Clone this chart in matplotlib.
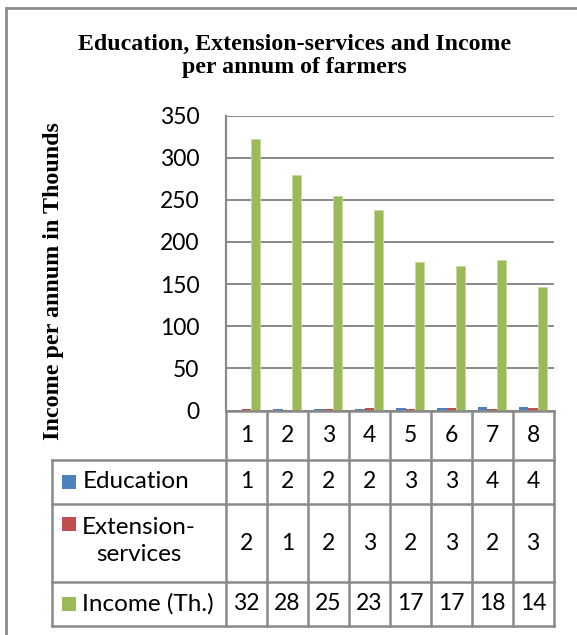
import matplotlib
matplotlib.use("Agg")
import matplotlib.pyplot as plt
from matplotlib.lines import Line2D
from matplotlib.patches import Rectangle
import matplotlib.transforms as mtransforms
import numpy as np

categories = ["1", "2", "3", "4", "5", "6", "7", "8"]
education = [1, 2, 2, 2, 3, 3, 4, 4]
extension = [2, 1, 2, 3, 2, 3, 2, 3]
income = [322, 280, 255, 238, 176, 171, 179, 147]
income_table = ["32", "28", "25", "23", "17", "17", "18", "14"]
yticks = [0, 50, 100, 150, 200, 250, 300, 350]

series_names = ["Education", "Extension-\nservices", "Income (Th.)"]
colors = ["#4F81BD", "#C0504D", "#9BBB59"]

W, H = 577, 635
fig = plt.figure(figsize=(W / 100, H / 100), dpi=100)

def fx(px):
    return px / W

def fy(py):
    return 1 - py / H

GRAY = "#898989"
AX_L, AX_R, AX_T, AX_B = 226, 553.5, 115.5, 410.5
ax = fig.add_axes([fx(AX_L), fy(AX_B), fx(AX_R) - fx(AX_L), fy(AX_T) - fy(AX_B)])

n = len(categories)
x = np.arange(n)
bw = 0.227
ax.bar(x - bw, education, bw, color=colors[0], zorder=3)
ax.bar(x, extension, bw, color=colors[1], zorder=3)
ax.bar(x + bw, income, bw, color=colors[2], zorder=3, edgecolor="#c5d9a0", linewidth=0.6)

NUMSZ = 16.5
HDRSZ = 17.5
ax.set_xlim(-0.5, n - 0.5)
ax.set_ylim(0, 350)
ax.set_yticks(yticks)
ax.set_yticklabels([str(v) for v in yticks], fontfamily="Lato", fontsize=NUMSZ)
ax.tick_params(axis="y", length=0, pad=19)
ax.set_xticks([])
ax.yaxis.grid(True, color=GRAY, linewidth=1.4, zorder=0)
for s in ["top", "right", "bottom"]:
    ax.spines[s].set_visible(False)
ax.spines["left"].set_color(GRAY)
ax.spines["left"].set_linewidth(1.6)
ax.axhline(0, color=GRAY, linewidth=1.8, zorder=4, clip_on=False)

# title
fig.text(fx(294.5), fy(56), "Education, Extension-services and Income\nper annum of farmers",
         ha="center", va="center", fontfamily="Liberation Serif", fontweight="bold",
         fontsize=17.2, linespacing=1.08)

# y label
fig.text(fx(54), fy(281.5), "Income per annum in Thounds", rotation=90, ha="center", va="center",
         fontfamily="Liberation Serif", fontweight="bold", fontsize=17.3)

# data table
tb = mtransforms.blended_transform_factory(ax.transData, fig.transFigure)
rows_y = [411, 460, 504, 582, 626]
TL = 51.7
lw = 1.8

def hline(x0, x1, py):
    fig.add_artist(Line2D([fx(x0), fx(x1)], [fy(py), fy(py)], color=GRAY, linewidth=lw))

def vline(px, y0, y1):
    fig.add_artist(Line2D([fx(px), fx(px)], [fy(y0), fy(y1)], color=GRAY, linewidth=lw))

for py in rows_y[1:]:
    hline(TL, AX_R, py)
vline(TL, rows_y[1], rows_y[-1])
for i in range(n + 1):
    xb = i - 0.5
    fig.add_artist(Line2D([xb, xb], [fy(rows_y[0]), fy(rows_y[-1])], color=GRAY,
                          linewidth=lw, transform=tb))

nfont = dict(fontfamily="Lato", fontsize=NUMSZ, color="black")
hfont = dict(fontfamily="Lato", fontsize=HDRSZ, color="black")
# category row
for i, c in enumerate(categories):
    fig.text(i, fy((rows_y[0] + rows_y[1]) / 2), c, transform=tb, ha="center", va="center", **nfont)

table_rows = [education, extension, income_table]
for r, vals in enumerate(table_rows):
    yc = (rows_y[r + 1] + rows_y[r + 2]) / 2
    for i, v in enumerate(vals):
        fig.text(i, fy(yc), str(v), transform=tb, ha="center", va="center", **nfont)

# row headers
sq = 14
hdr = [(482, 482), (524, 541), (604, 604)]
for r, name in enumerate(series_names):
    sq_y, yc = hdr[r]
    fig.add_artist(Rectangle((fx(61.5), fy(sq_y + sq / 2)), fx(sq), sq / H,
                             facecolor=colors[r], edgecolor="none"))
    if r == 1:
        fig.text(fx(139), fy(yc), name, ha="center", va="center", linespacing=1.35, **hfont)
    else:
        fig.text(fx(82.5), fy(yc), name, ha="left", va="center", **hfont)

# chart border
fig.add_artist(Line2D([fx(6), fx(6)], [fy(8), 0], color="#8c8c8c", linewidth=2))
fig.add_artist(Line2D([fx(6), 1], [fy(8), fy(8)], color="#8c8c8c", linewidth=2))

fig.savefig("out.png", dpi=100)
